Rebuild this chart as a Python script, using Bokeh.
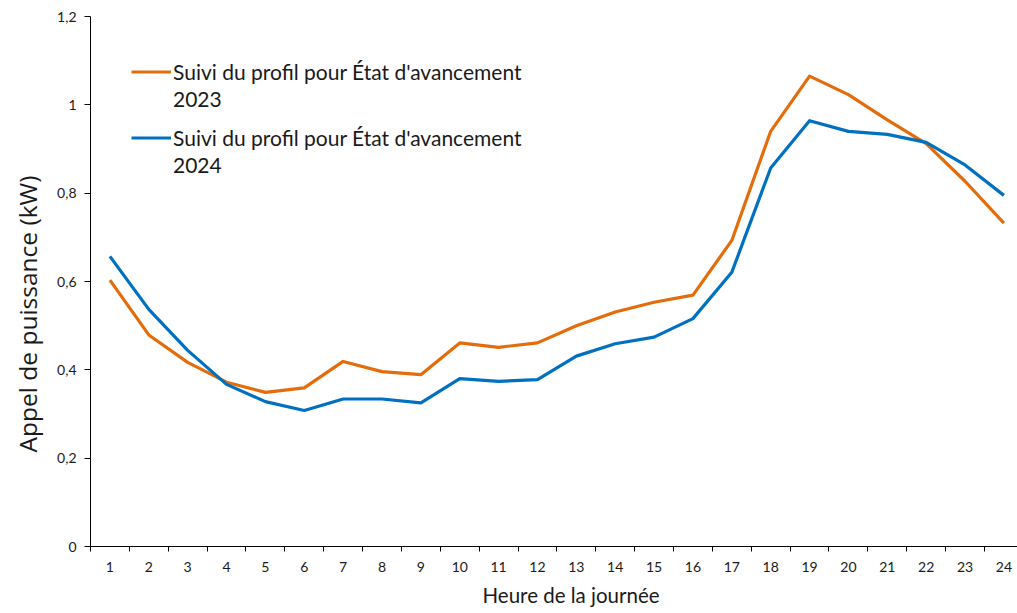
from bokeh.plotting import figure
from bokeh.models import (FixedTicker, Legend, LegendItem, Range1d, Title, ColumnDataSource)
from bokeh.embed import file_html
from bokeh.resources import INLINE

hours = list(range(1, 25))
profil_2023 = [0.603, 0.479, 0.417, 0.372, 0.349, 0.359, 0.419, 0.396, 0.389, 0.461, 0.451, 0.461,
               0.500, 0.531, 0.553, 0.569, 0.693, 0.940, 1.065, 1.023, 0.966, 0.912, 0.827, 0.732]
profil_2024 = [0.657, 0.537, 0.444, 0.367, 0.328, 0.308, 0.334, 0.334, 0.325, 0.380, 0.374, 0.378,
               0.431, 0.459, 0.474, 0.516, 0.621, 0.857, 0.964, 0.940, 0.933, 0.915, 0.864, 0.795]
y_ticks = [0, 0.2, 0.4, 0.6, 0.8, 1.0, 1.2]
y_tick_labels = ["0", "0,2", "0,4", "0,6", "0,8", "1", "1,2"]
legend_text = "Suivi du profil pour État d'avancement"
years = ["2023", "2024"]
x_title = "Heure de la journée"
y_title = "Appel de puissance (kW)"

FONT = "Lato"
TXT = "#1a1a1a"
ORANGE = "#E46C0A"
BLUE = "#0070C0"

p = figure(width=1017, height=613, output_backend="svg", toolbar_location=None,
           x_range=Range1d(0.5, 24.35), y_range=Range1d(0, 1.2))
p.min_border_left = 90
p.min_border_right = 0
p.min_border_top = 16
p.min_border_bottom = 67
p.outline_line_color = None
p.grid.visible = False
p.background_fill_color = "white"
p.border_fill_color = "white"

src = ColumnDataSource(dict(h=hours, a=profil_2023, b=profil_2024))
r23 = p.line("h", "a", source=src, line_color=ORANGE, line_width=3.2, line_join="round")
r24 = p.line("h", "b", source=src, line_color=BLUE, line_width=3.2, line_join="round")
dummy = p.line(x=[], y=[], line_alpha=0)

xa = p.xaxis[0]
xa.ticker = FixedTicker(ticks=hours, minor_ticks=[h - 0.5 for h in hours] + [24.5])
xa.major_tick_out = 0
xa.major_tick_in = 0
xa.minor_tick_out = 5
xa.minor_tick_in = 0
xa.minor_tick_line_color = "black"
xa.axis_line_color = "black"
xa.major_label_text_font = FONT
xa.major_label_text_font_size = "14px"
xa.major_label_text_color = TXT
xa.major_label_standoff = 10

ya = p.yaxis[0]
ya.ticker = FixedTicker(ticks=y_ticks, minor_ticks=[])
ya.major_label_overrides = {t: l for t, l in zip(y_ticks, y_tick_labels)}
ya.major_tick_out = 6
ya.major_tick_in = 0
ya.major_tick_line_color = "black"
ya.axis_line_color = "black"
ya.major_label_text_font = FONT
ya.major_label_text_font_size = "14px"
ya.major_label_text_color = TXT
ya.major_label_standoff = 8

p.add_layout(Title(text=y_title, align="left", offset=94, vertical_align="top",
                   text_font="Open Sans", text_font_size="24.5px", text_font_style="normal",
                   text_color=TXT, standoff=18), "left")
p.add_layout(Title(text=x_title, align="left", offset=392, text_font=FONT,
                   text_font_size="20.5px", text_font_style="normal", text_color=TXT,
                   standoff=13), "below")

for rend, yr, loc in [(r23, years[0], (41, 434)), (r24, years[1], (41, 368))]:
    lg = Legend(items=[LegendItem(label=legend_text, renderers=[rend]),
                       LegendItem(label=yr, renderers=[dummy])],
                location=loc, padding=0, margin=0, spacing=0,
                glyph_width=40, glyph_height=27, label_height=27, label_standoff=2,
                label_text_font=FONT, label_text_font_size="21px", label_text_color=TXT,
                border_line_color=None, background_fill_alpha=0)
    p.add_layout(lg)

open("out.html", "w").write(file_html(p, INLINE))
